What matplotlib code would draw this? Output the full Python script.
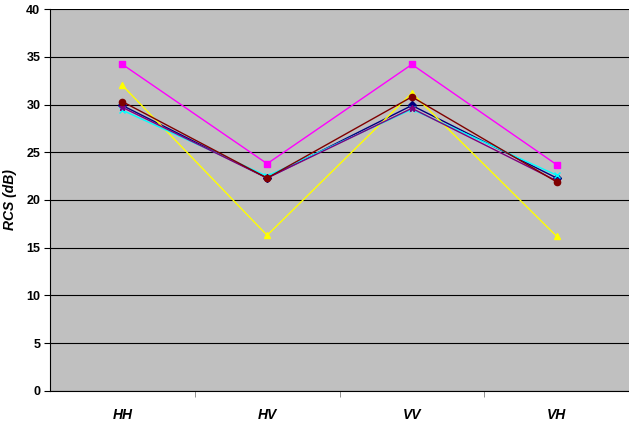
import matplotlib
matplotlib.use("Agg")
import matplotlib.pyplot as plt

categories = ["HH", "HV", "VV", "VH"]

# RCS values (dB) per polarisation, one list per series
navy_vals = [29.9, 22.3, 29.9, 22.3]
magenta_vals = [34.2, 23.8, 34.2, 23.7]
yellow_vals = [32.0, 16.3, 31.2, 16.2]
cyan_vals = [29.4, 22.5, 29.5, 22.6]
purple_vals = [29.7, 22.3, 29.6, 22.0]
maroon_vals = [30.3, 22.3, 30.8, 21.9]

series = [
    (navy_vals, "#000080", "D"),
    (magenta_vals, "#FF00FF", "s"),
    (yellow_vals, "#FFFF00", "^"),
    (cyan_vals, "#00FFFF", "x"),
    (purple_vals, "#800080", "*"),
    (maroon_vals, "#800000", "o"),
]

fig = plt.figure(figsize=(6.29, 4.21), dpi=100)
ax = fig.add_axes([0.0795, 0.0713, 0.9205, 0.9073])
ax.set_facecolor("#C0C0C0")

x = list(range(len(categories)))
for vals, color, marker in series:
    ax.plot(x, vals, color=color, marker=marker, markersize=4.5,
            linewidth=1.0, markeredgecolor=color, markerfacecolor=color)

ax.set_xlim(-0.5, 3.5)
ax.set_ylim(0, 40)
ax.set_yticks(range(0, 41, 5))
ax.yaxis.grid(True, color="black", linewidth=0.8)
ax.set_axisbelow(True)

ax.set_xticks(x)
ax.set_xticklabels(categories, fontweight="bold", fontstyle="italic",
                   fontsize=10, family="Liberation Sans")
ax.set_xticks([0.5, 1.5, 2.5], minor=True)
ax.tick_params(axis="x", which="major", length=0, pad=12)
ax.tick_params(axis="x", which="minor", length=4, direction="out", color="#808080")
ax.tick_params(axis="y", length=4, direction="out", pad=3)
for lab in ax.get_yticklabels():
    lab.set_fontweight("bold")
    lab.set_fontsize(9)
    lab.set_family("Liberation Sans")

ax.set_ylabel("RCS (dB)", fontweight="bold", fontstyle="italic",
              fontsize=10, family="Liberation Sans")
ax.yaxis.set_label_coords(-0.057, 0.5)

for side in ("top", "right"):
    ax.spines[side].set_visible(False)
ax.spines["left"].set_color("black")
ax.spines["bottom"].set_color("black")

fig.savefig("out.png", dpi=100, facecolor="white")
